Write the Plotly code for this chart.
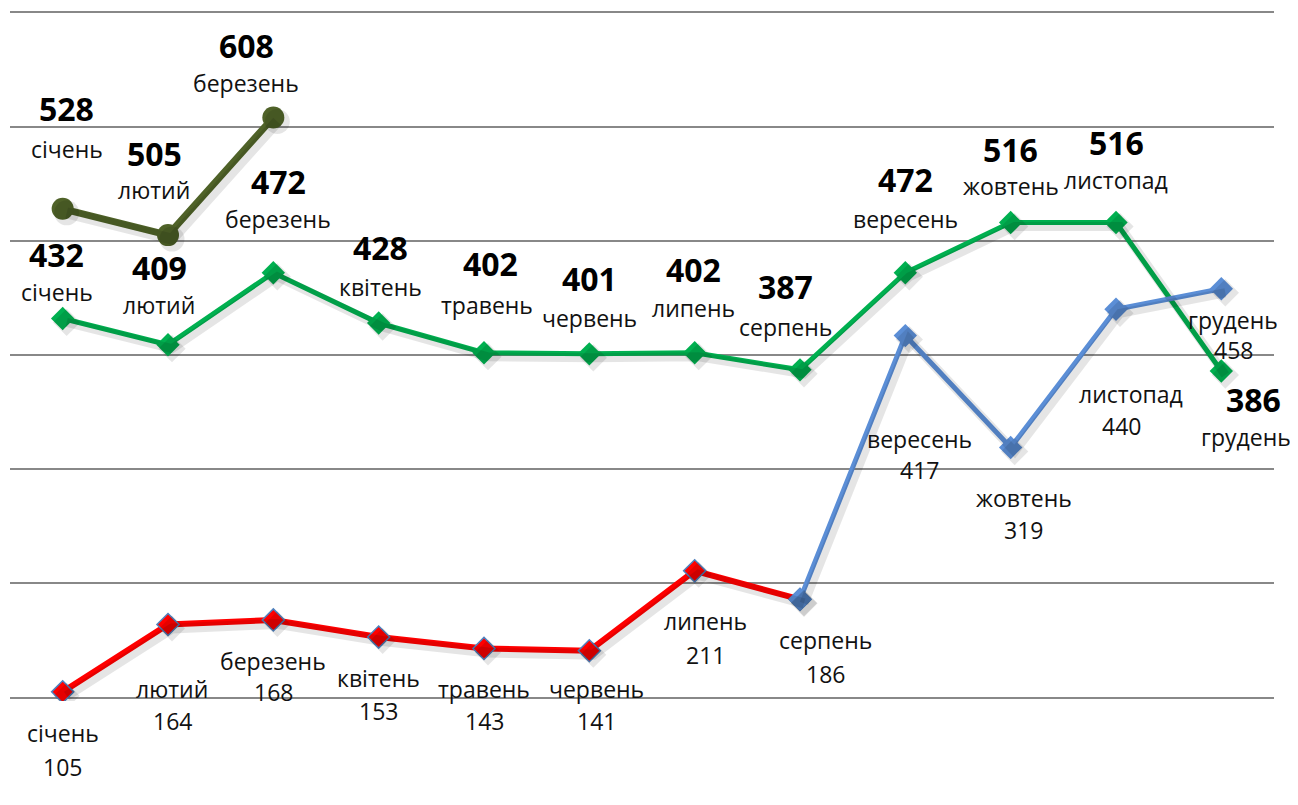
import plotly.graph_objects as go

months = ["січень", "лютий", "березень", "квітень", "травень", "червень",
          "липень", "серпень", "вересень", "жовтень", "листопад", "грудень"]
x_idx = list(range(1, 13))

olive_vals = [528, 505, 608]
green_vals = [432, 409, 472, 428, 402, 401, 402, 387, 472, 516, 516, 386]
red_vals = [105, 164, 168, 153, 143, 141, 211, 186]
blue_vals = [186, 417, 319, 440, 458]
blue_start = 8  # серпень

y_ticks = [100, 200, 300, 400, 500, 600, 700]

# label offsets in pixels (dx, dy screen-down) : (value, month)
olive_off = [((4, -100), (4, -60)), ((-14, -82), (-14, -45)), ((-27, -72), (-27, -34))]
green_off = [((-6, -64), (-6, -26)), ((-9, -77), (-9, -40)), ((5, -91), (5, -54)),
             ((2, -76), (2, -36)), ((6, -89), (3, -48)), ((0, -75), (0, -36)),
             ((-1, -83), (-1, -45)), ((-15, -83), (-15, -43)), ((0, -93), (0, -54)),
             ((0, -73), (0, -37)), ((0, -80), (0, -43)), ((32, 29), (25, 66))]
low_off = [((0, 75), (0, 41)), ((4, 97), (4, 65)), ((0, 72), (0, 41)),
           ((0, 74), (0, 41)), ((0, 73), (0, 41)), ((7, 70), (7, 38)),
           ((11, 84), (11, 50)), ((25, 75), (25, 41)), ((14, 134), (14, 103)),
           ((13, 82), (13, 50)), ((5, 117), (15, 85)), ((12, 61), (12, 31))]

OLIVE = "#4F6228"
GREEN = "#00B050"
RED = "#FF0000"
BLUE = "#5B8ED6"
FONT = "Open Sans"

fig = go.Figure()

series = [
    (x_idx[:3], olive_vals, OLIVE, 7, dict(symbol="circle", size=22, color=OLIVE)),
    (x_idx, green_vals, GREEN, 5, dict(symbol="diamond", size=18, color=GREEN)),
    (x_idx[:8], red_vals, RED, 6, dict(symbol="diamond", size=17, color=RED,
                                        line=dict(color="#4F81BD", width=1.5))),
    (x_idx[blue_start - 1:], blue_vals, BLUE, 5, dict(symbol="diamond", size=18, color=BLUE)),
]

# shadows on offset axes
for xs, ys, col, w, mk in series:
    fig.add_trace(go.Scatter(x=xs, y=ys, mode="lines+markers", xaxis="x2", yaxis="y2",
                             line=dict(color="rgba(0,0,0,0.10)", width=w + 4),
                             marker=dict(symbol=mk["symbol"], size=mk["size"] + 3,
                                         color="rgba(0,0,0,0.10)"),
                             hoverinfo="skip", showlegend=False))
for xs, ys, col, w, mk in series:
    fig.add_trace(go.Scatter(x=xs, y=ys, mode="lines+markers",
                             line=dict(color=col, width=w), marker=mk, showlegend=False))

ann = []
def add(x, y, text, dx, dy, bold=False):
    ann.append(dict(x=x, y=y, xref="x", yref="y", text=f"<b>{text}</b>" if bold else text,
                    showarrow=False, xanchor="center", yanchor="middle",
                    xshift=dx, yshift=-dy,
                    font=dict(family=FONT, size=32 if bold else 23,
                              color="#000000" if bold else "#111111")))

for i, v in enumerate(olive_vals):
    (vd, md) = olive_off[i]
    add(x_idx[i], v, str(v), *vd, bold=True)
    add(x_idx[i], v, months[i], *md)
for i, v in enumerate(green_vals):
    (vd, md) = green_off[i]
    add(x_idx[i], v, str(v), *vd, bold=True)
    add(x_idx[i], v, months[i], *md)
low_vals = red_vals + blue_vals[1:]
for i, v in enumerate(low_vals):
    (vd, md) = low_off[i]
    add(x_idx[i], v, str(v), *vd)
    add(x_idx[i], v, months[i], *md)

# page body has an 8px default margin; figure sized to fit the window
W, H = 1290, 797
XR = [0.5, 12.5]
YR = [97, 703]
pxu = 686 / 600.0
pw, ph = 1264, (YR[1] - YR[0]) * pxu
ml, mt = 2, 4 - (YR[1] - 700) * pxu
mr, mb = W - ml - pw, H - mt - ph
shx = (XR[1] - XR[0]) / pw * 4
shy = (YR[1] - YR[0]) / ph * 4

fig.update_layout(
    width=W, height=H, margin=dict(l=ml, r=mr, t=mt, b=mb, pad=0),
    paper_bgcolor="white", plot_bgcolor="white",
    xaxis=dict(range=XR, showgrid=False, zeroline=False, showticklabels=False,
               showline=False),
    yaxis=dict(range=YR, tickvals=y_ticks, showgrid=True, gridcolor="#888888",
               gridwidth=1.5, zeroline=False, showticklabels=False, showline=False),
    xaxis2=dict(range=[XR[0] - shx, XR[1] - shx], overlaying="x", visible=False,
                anchor="y2"),
    yaxis2=dict(range=[YR[0] + shy, YR[1] + shy], overlaying="y", visible=False,
                anchor="x2"),
    annotations=ann,
)

fig.write_html("out.html")
